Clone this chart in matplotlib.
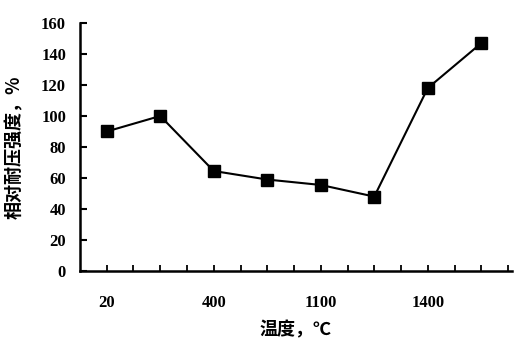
import numpy as np
import matplotlib
matplotlib.use("Agg")
import matplotlib.pyplot as plt

# data
temps = ["20", "", "400", "", "1100", "", "1400", ""]
strength = [90, 100, 64.5, 59, 55.5, 48, 118, 147]
y_ticks = [0, 20, 40, 60, 80, 100, 120, 140, 160]

FONT = ["Liberation Serif", "Noto Sans CJK SC", "DejaVu Sans"]
plt.rcParams["font.family"] = FONT

fig = plt.figure(figsize=(5.18, 3.46), dpi=100)
ax = fig.add_axes([0.1544, 0.2168, 0.8336, 0.7168])

x = np.arange(len(strength))
ax.plot(x, strength, color="black", lw=1.5, marker="s", ms=8.5,
        mfc="black", mec="black")

ax.set_xlim(-0.5, 7.57)
ax.set_ylim(0, 160)

ax.spines["top"].set_visible(False)
ax.spines["right"].set_visible(False)
for s in ("left", "bottom"):
    ax.spines[s].set_linewidth(1.8)

ax.set_yticks(y_ticks)
ax.set_yticklabels([str(v) for v in y_ticks], fontsize=12, fontweight="bold")
ax.tick_params(axis="y", direction="in", length=5, width=1.5, pad=10)

# tick every half step, labels only under some points
ticks = np.arange(0, 7.6, 0.5)
ax.set_xticks(ticks)
labels = []
for t in ticks:
    if t == int(t) and temps[int(t)]:
        labels.append(temps[int(t)])
    else:
        labels.append("")
ax.set_xticklabels(labels, fontsize=12, fontweight="bold")
ax.tick_params(axis="x", direction="in", length=4, width=1.3, pad=17)

ax.set_xlabel("温度，℃", fontsize=13, fontweight="bold", labelpad=7,
              family=["Noto Sans CJK SC", "DejaVu Sans"])
ax.set_ylabel("相对耐压强度，%", fontsize=13, fontweight="bold", labelpad=12,
              family=["Noto Sans CJK SC", "DejaVu Sans"])

fig.savefig("out.png", facecolor="white")
